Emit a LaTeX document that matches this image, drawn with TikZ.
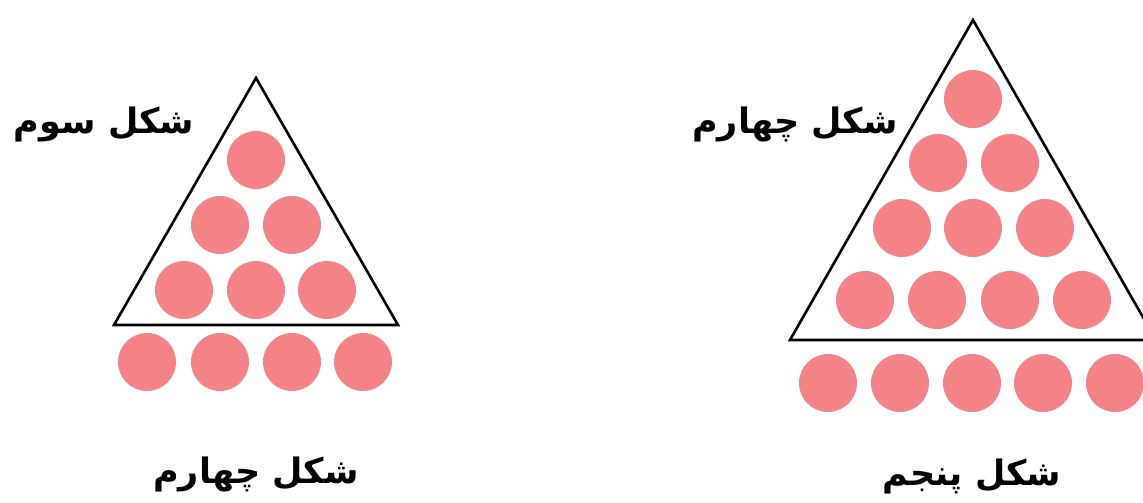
\documentclass[tikz,border=0pt]{standalone}
\usepackage{fontspec}
\newfontfamily\arabicfont[Script=Arabic]{DejaVu Sans}
\TeXXeTstate=1
\definecolor{ball}{RGB}{243,131,136}
\begin{document}
\begin{tikzpicture}[x=1pt,y=-1pt,
  ballst/.style={circle,fill=ball,inner sep=0pt,minimum size=58pt},
  tri/.style={draw=black,line width=2.6pt,line join=miter},
  lab/.style={font=\arabicfont\fontsize{35}{40}\selectfont\bfseries,inner sep=0pt}]
\useasboundingbox (0,0) rectangle (1143,503);
\clip (0,0) rectangle (1143,503);
% left figure
\coordinate (LA) at (256,78);
\coordinate (LB) at (114,325);
\coordinate (LC) at (398,325);
\draw[tri] (LA) -- (LB) -- (LC) -- cycle;
\node[ballst] (l11) at (256,160) {};
\node[ballst] (l21) at (220,225) {};
\node[ballst] (l22) at (292,225) {};
\node[ballst] (l31) at (184,290) {};
\node[ballst] (l32) at (256,290) {};
\node[ballst] (l33) at (327,290) {};
\node[ballst] (l41) at (147,362) {};
\node[ballst] (l42) at (220,362) {};
\node[ballst] (l43) at (292,362) {};
\node[ballst] (l44) at (363,362) {};
\node[lab] (ltop) at (104,124) {\beginR شکل سوم\endR};
\node[lab] (lbot) at (256,474) {\beginR شکل چهارم\endR};
% right figure
\coordinate (RA) at (973,20);
\coordinate (RB) at (790,340);
\coordinate (RC) at (1156,340);
\draw[tri] (RA) -- (RB) -- (RC) -- cycle;
\node[ballst] (r11) at (973,99) {};
\node[ballst] (r21) at (938,163) {};
\node[ballst] (r22) at (1010,163) {};
\node[ballst] (r31) at (902,228) {};
\node[ballst] (r32) at (973,228) {};
\node[ballst] (r33) at (1045,228) {};
\node[ballst] (r41) at (865,300) {};
\node[ballst] (r42) at (937,300) {};
\node[ballst] (r43) at (1010,300) {};
\node[ballst] (r44) at (1082,300) {};
\node[ballst] (r51) at (828,383) {};
\node[ballst] (r52) at (900,383) {};
\node[ballst] (r53) at (972,383) {};
\node[ballst] (r54) at (1043,383) {};
\node[ballst] (r55) at (1115,383) {};
\node[lab] (rtop) at (795,124) {\beginR شکل چهارم\endR};
\node[lab] (rbot) at (972,476) {\beginR شکل پنجم\endR};
\end{tikzpicture}
\end{document}
